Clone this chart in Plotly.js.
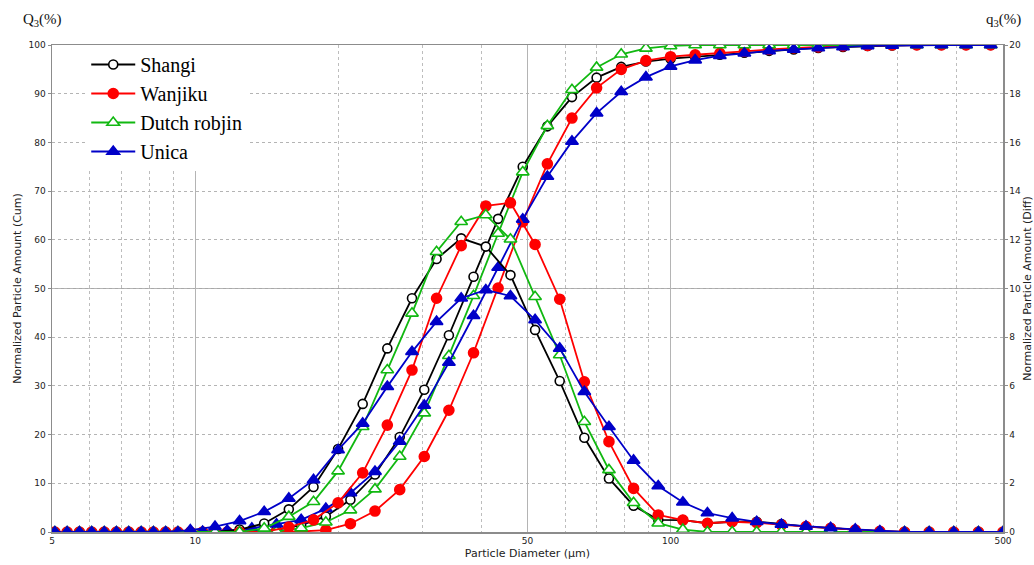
<!DOCTYPE html>
<html>
<head>
<meta charset="utf-8">
<script src="https://cdn.plot.ly/plotly-3.0.1.min.js"></script>
<style>html,body{margin:0;padding:0;background:#fff;}#chart{width:1034px;height:565px;}</style>
</head>
<body>
<div id="chart"></div>
<script>
// Particle diameters (um): bin centres for the differential curves, bin edges for the cumulative curves
const diaDiff = [5.38, 6.06, 6.83, 7.70, 8.67, 9.77, 11.01, 12.40, 13.97, 15.74, 17.74, 19.98, 22.51, 25.36, 28.58, 32.19, 36.27, 40.86, 46.04, 51.87, 58.44, 65.84, 74.18, 83.57, 94.17, 106.1, 119.5, 134.7, 151.7, 171.0, 192.6, 217.0, 244.5, 275.4, 310.4, 349.7, 393.9, 443.9, 500];
const diaCum = [5.07, 5.71, 6.44, 7.25, 8.17, 9.20, 10.37, 11.68, 13.16, 14.83, 16.71, 18.83, 21.21, 23.89, 26.93, 30.33, 34.17, 38.50, 43.37, 48.86, 55.05, 62.01, 69.87, 78.72, 88.72, 99.96, 112.6, 126.9, 142.9, 161.1, 181.5, 204.4, 230.4, 259.5, 292.3, 329.4, 371.1, 418.1, 471.1];

const seriesNames = ["Shangi", "Wanjiku", "Dutch robjin", "Unica"];

// q3 (%) differential values
const shangiDiff = [0, 0, 0, 0, 0, 0, 0, 0.10, 0.35, 0.93, 1.85, 3.41, 5.26, 7.54, 9.60, 11.21, 12.06, 11.72, 10.55, 8.30, 6.20, 3.87, 2.20, 1.08, 0.50, 0.49, 0.36, 0.42, 0.42, 0.33, 0.22, 0.16, 0.08, 0.03, 0, 0, 0, 0, 0];
const wanjikuDiff = [0, 0, 0, 0, 0, 0, 0, 0, 0, 0.20, 0.50, 1.20, 2.43, 4.39, 6.65, 9.60, 11.76, 13.39, 13.52, 11.81, 9.56, 6.17, 3.71, 1.79, 0.70, 0.49, 0.36, 0.42, 0.38, 0.29, 0.22, 0.15, 0.08, 0.03, 0, 0, 0, 0, 0];
const dutchDiff = [0, 0, 0, 0, 0, 0, 0, 0, 0.15, 0.63, 1.24, 2.50, 4.32, 6.65, 8.98, 11.51, 12.74, 13.02, 12.02, 9.66, 7.27, 4.53, 2.55, 1.20, 0.36, 0.10, 0, 0, 0, 0, 0, 0, 0, 0, 0, 0, 0, 0, 0];
const unicaDiff = [0, 0, 0, 0, 0, 0.08, 0.22, 0.45, 0.83, 1.38, 2.14, 3.37, 4.46, 5.97, 7.40, 8.64, 9.60, 9.94, 9.69, 8.71, 7.54, 5.76, 4.32, 2.94, 1.89, 1.22, 0.78, 0.57, 0.42, 0.31, 0.23, 0.17, 0.11, 0.04, 0, 0, 0, 0, 0];

// Q3 (%) cumulative values
const shangiCum = [0, 0, 0, 0, 0, 0, 0, 0, 0.10, 0.45, 1.4, 3.2, 6.6, 11.8, 19.5, 29.2, 40.4, 52.4, 64.3, 75.0, 83.3, 89.3, 93.3, 95.5, 96.6, 97.2, 97.6, 98.0, 98.4, 98.8, 99.1, 99.4, 99.6, 99.8, 99.9, 100, 100, 100, 100];
const wanjikuCum = [0, 0, 0, 0, 0, 0, 0, 0, 0, 0, 0.1, 0.4, 1.7, 4.3, 8.7, 15.5, 25.0, 36.8, 50.1, 63.7, 75.6, 85.0, 91.2, 95.0, 96.8, 97.6, 98.0, 98.3, 98.7, 99.1, 99.4, 99.6, 99.8, 99.9, 100, 100, 100, 100, 100];
const dutchCum = [0, 0, 0, 0, 0, 0, 0, 0, 0, 0.15, 0.8, 2.0, 4.5, 8.8, 15.5, 24.4, 36.2, 48.5, 61.3, 73.9, 83.4, 90.8, 95.4, 98.1, 99.3, 99.8, 100, 100, 100, 100, 100, 100, 100, 100, 100, 100, 100, 100, 100];
const unicaCum = [0, 0, 0, 0, 0, 0, 0.08, 0.3, 0.75, 1.6, 2.5, 4.8, 8.0, 12.4, 18.6, 26.0, 34.8, 44.4, 54.3, 64.2, 73.0, 80.2, 86.0, 90.4, 93.4, 95.6, 96.9, 97.8, 98.3, 98.8, 99.1, 99.4, 99.6, 99.8, 99.9, 100, 100, 100, 100];

// tick labels
const xTickVals = [5, 10, 50, 100, 500];
const xMinorVals = [6, 7, 8, 9, 20, 30, 40, 60, 70, 80, 90, 200, 300, 400];

const diffData = [shangiDiff, wanjikuDiff, dutchDiff, unicaDiff];
const cumData = [shangiCum, wanjikuCum, dutchCum, unicaCum];

const styles = [
  {color: "#000000", symbol: "circle", fill: "#ffffff", size: 9},
  {color: "#ff0000", symbol: "circle", fill: "#ff0000", size: 10},
  {color: "#11b811", symbol: "triangle-up", fill: "#ffffff", size: 11},
  {color: "#0000c8", symbol: "triangle-up", fill: "#0000c8", size: 11}
];

const traces = [];
for (let i = 0; i < 4; i++) {
  const s = styles[i];
  traces.push({
    x: diaDiff, y: diffData[i], yaxis: "y2", type: "scatter", mode: "lines+markers",
    name: seriesNames[i], legendgroup: seriesNames[i], showlegend: false,
    line: {color: s.color, width: 1.8},
    marker: {symbol: s.symbol, size: s.size, color: s.fill, line: {color: s.color, width: 1.6}}
  });
}
for (let i = 0; i < 4; i++) {
  const s = styles[i];
  traces.push({
    x: diaCum, y: cumData[i], yaxis: "y", type: "scatter", mode: "lines+markers",
    name: seriesNames[i], legendgroup: seriesNames[i], showlegend: true,
    line: {color: s.color, width: 1.8},
    marker: {symbol: s.symbol, size: s.size, color: s.fill, line: {color: s.color, width: 1.6}}
  });
}

const tickFont = {family: "DejaVu Sans", size: 9, color: "#222"};
const titleFont = {family: "DejaVu Sans", size: 11, color: "#222"};

const layout = {
  width: 1034, height: 565,
  margin: {l: 52, r: 31, t: 45, b: 33},
  paper_bgcolor: "#ffffff", plot_bgcolor: "#ffffff",
  showlegend: true,
  legend: {
    x: 0.036, y: 1.0, xanchor: "left", yanchor: "top",
    bgcolor: "#ffffff", borderwidth: 0,
    font: {family: "Liberation Serif", size: 20, color: "#000"},
    tracegroupgap: 0, itemwidth: 44
  },
  xaxis: {
    type: "log", range: [Math.log10(5), Math.log10(500)],
    tickmode: "array", tickvals: xTickVals, ticktext: xTickVals.map(String),
    showgrid: true, gridcolor: "#b4b4b4", gridwidth: 1,
    minor: {tickmode: "array", tickvals: xMinorVals, showgrid: true, gridcolor: "#bdbdbd", griddash: "dot", gridwidth: 1, ticks: ""},
    showline: true, linecolor: "#8c8c8c", linewidth: 1.5, mirror: true,
    ticks: "", zeroline: false,
    tickfont: tickFont,
    title: {text: "Particle Diameter (µm)", font: titleFont, standoff: 4}
  },
  yaxis: {
    range: [0, 100], dtick: 10, tick0: 0,
    showgrid: true, gridcolor: "#b4b4b4", griddash: "dot", gridwidth: 1,
    showline: true, linecolor: "#8c8c8c", linewidth: 1.5,
    ticks: "outside", ticklen: 3, tickcolor: "#8c8c8c", zeroline: false,
    tickfont: tickFont,
    title: {text: "Normalized Particle Amount (Cum)", font: titleFont, standoff: 4}
  },
  yaxis2: {
    overlaying: "y", side: "right", range: [0, 20], dtick: 2, tick0: 0,
    showgrid: false, showline: true, linecolor: "#8c8c8c", linewidth: 1.5,
    ticks: "outside", ticklen: 3, tickcolor: "#8c8c8c", zeroline: false,
    tickfont: tickFont,
    title: {text: "Normalized Particle Amount (Diff)", font: titleFont, standoff: 6}
  },
  shapes: [
    {type: "line", xref: "paper", x0: 0, x1: 1, yref: "y", y0: 50, y1: 50, line: {color: "#a8a8a8", width: 1.2}, layer: "below"}
  ],
  annotations: [
    {text: "Q<sub>3</sub>(%)", xref: "paper", yref: "paper", x: -0.01, y: 1.052, xanchor: "center", yanchor: "middle", showarrow: false, font: {family: "Liberation Serif", size: 15, color: "#111"}},
    {text: "q<sub>3</sub>(%)", xref: "paper", yref: "paper", x: 1.0, y: 1.052, xanchor: "center", yanchor: "middle", showarrow: false, font: {family: "Liberation Serif", size: 15, color: "#111"}}
  ]
};

Plotly.newPlot("chart", traces, layout, {displayModeBar: false, staticPlot: true});
</script>
</body>
</html>
